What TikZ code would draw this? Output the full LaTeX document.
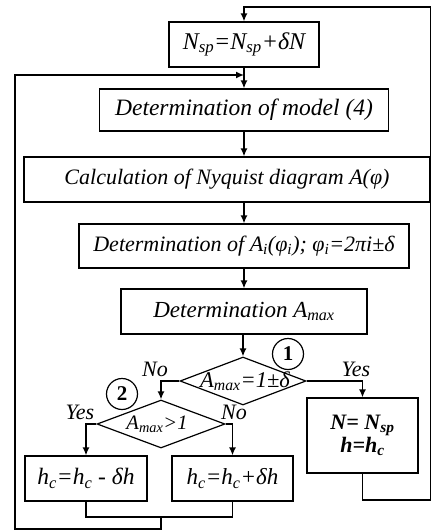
\documentclass[tikz,border=0pt]{standalone}
\usepackage{fontspec}
\setmainfont{Liberation Serif}
\usetikzlibrary{arrows.meta,shapes.geometric}
\begin{document}
\begin{tikzpicture}[x=1pt,y=-1pt]
\tikzset{
 box/.style={draw, line width=1.2pt, rectangle, inner sep=0pt},
 fs/.style={font=\fontsize{#1}{#1}\selectfont\itshape},
 dec/.style={draw, line width=1.2pt, diamond, inner sep=0pt},
 dtxt/.style={inner sep=0pt},
 lab/.style={font=\fontsize{22}{22}\selectfont\itshape},
 num/.style={draw, circle, line width=1.2pt, minimum size=31pt, inner sep=0pt, font=\fontsize{21}{21}\selectfont\bfseries},
 ln/.style={line width=1.5pt},
 arr/.style={ln, -{Latex[length=8pt,width=7pt]}},
}
\useasboundingbox (0,0) rectangle (432,531);
\node[box, fs=24, minimum width=150pt, minimum height=45pt] (b1) at (244,44.5) {N\textsubscript{sp}=N\textsubscript{sp}+δN};
\node[box, fs=23.5, minimum width=289pt, minimum height=42pt] (b2) at (244,110) {Determination of model (4)};
\node[box, fs=22, minimum width=406pt, minimum height=45pt] (b3) at (227,179.5) {Calculation of Nyquist diagram A(φ)};
\node[box, fs=22, minimum width=330pt, minimum height=44pt] (b4) at (244,246) {Determination of A\textsubscript{i}(φ\textsubscript{i}); φ\textsubscript{i}=2πi±δ};
\node[box, fs=23, minimum width=246pt, minimum height=45pt] (b5) at (244,311.5) {Determination A\textsubscript{max}};
\node[dec, minimum width=126pt, minimum height=48pt] (d1) at (243,381) {};
\node[dtxt, fs=22.5] (t1) at (245,381) {A\textsubscript{max}=1±δ};
\node[dec, minimum width=128pt, minimum height=48pt] (d2) at (161,424) {};
\node[dtxt, fs=20.5] (t2) at (157,424) {A\textsubscript{max}>1};
\node[box, fs=23.5, minimum width=122pt, minimum height=45pt] (b6) at (86,478.5) {h\textsubscript{c}=h\textsubscript{c} - δh};
\node[box, fs=23, minimum width=121pt, minimum height=45pt] (b7) at (232.5,478.5) {h\textsubscript{c}=h\textsubscript{c}+δh};
\node[box, minimum width=111pt, minimum height=75pt, align=center, font=\fontsize{22}{21}\selectfont\bfseries\itshape] (b8) at (362.5,435.5) {N= N\textsubscript{sp}\\h=h\textsubscript{c}};
\node[lab] (no1) at (155,369) {No};
\node[lab] (yes1) at (356,369) {Yes};
\node[lab] (yes2) at (80,412) {Yes};
\node[lab] (no2) at (234,412) {No};
\node[num] (c1) at (288,354) {1};
\node[num] (c2) at (122,394) {2};
\coordinate (rb) at (430.5,500);
\coordinate (rt) at (430.5,7);
\coordinate (m) at (161,517);
\coordinate (lb) at (15,529);
\coordinate (lt) at (15,75);
\draw[arr] (b1.south) -- (b2.north);
\draw[arr] (b2.south) -- (b2.south |- b3.north);
\draw[arr] (b3.south -| b4.north) -- (b4.north);
\draw[arr] (b4.south) -- (b5.north);
\draw[arr] (b5.south -| d1.north) -- (d1.north);
\draw[arr] (d1.west) -| (d2.north);
\draw[arr] (d1.east) -| (b8.north);
\draw[arr] (d2.west) -| (b6.north);
\draw[arr] (d2.east) -| (b7.north);
\draw[ln] (b6.south) |- (m) -| (b7.south);
\draw[arr] (m) -- (m |- lb) -- (lb) -- (lt) -- (lt -| b1.south);
\draw[arr] (b8.south) -- (b8.south |- rb) -- (rb) -- (rt) -| (b1.north);
\end{tikzpicture}
\end{document}
